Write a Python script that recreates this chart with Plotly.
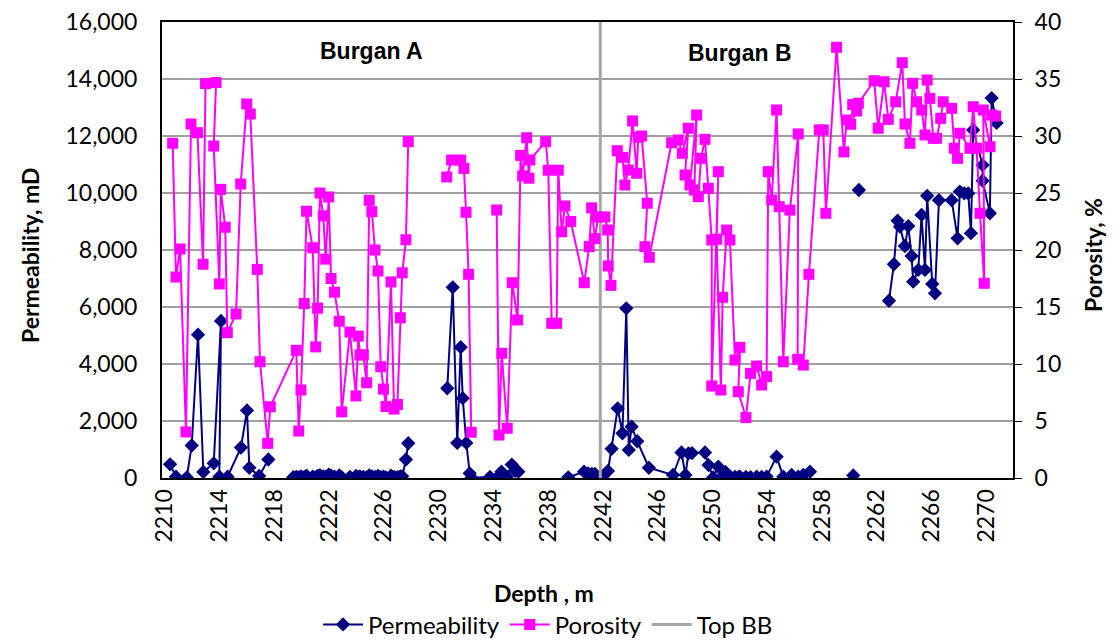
import plotly.graph_objects as go

# ---------------- data ----------------
perm_depth = [2210.37, 2210.80, 2211.59, 2211.95, 2212.41, 2212.80, 2213.56, 2214.09, 2213.97, 2214.57,
              2215.55, 2215.99, 2216.16, 2216.88, 2217.55, None,
              2219.37, 2219.59, 2219.77, 2219.93, 2220.17, 2220.34, 2220.79, 2221.01, 2221.15, 2221.32,
              2221.56, 2221.74, 2221.96, 2222.13, 2222.38, 2222.73, 2222.91, 2223.51, 2223.95, 2224.12,
              2224.24, 2224.49, 2224.73, 2224.92, 2225.11, 2225.34, 2225.56, 2225.76, 2225.96, 2226.14,
              2226.51, 2226.73, 2226.98, 2227.19, 2227.33, 2227.60, 2227.77, None,
              2230.62, 2231.02, 2231.35, 2231.60, 2231.75, 2232.01, 2232.26, 2232.40, 2233.74, 2234.36,
              2234.58, 2234.96, 2235.33, 2235.57, 2235.81, None,
              2239.46, 2240.61, 2240.92, 2241.19, 2241.41, 2241.78, 2242.00, 2242.36, 2242.63, 2243.07,
              2243.42, 2243.70, 2243.88, 2244.09, 2244.50, 2245.35, 2247.11, 2247.73, 2248.02, 2248.24,
              2248.50, 2249.45, 2249.71, 2250.05, 2250.42, 2250.65, 2250.94, 2251.29, 2251.64, 2251.88,
              2252.00, 2252.44, 2252.78, 2253.22, 2253.59, 2253.95, 2254.68, 2255.17, 2255.78, 2256.26,
              2256.63, 2257.12, None,
              2260.28, None,
              2260.69, None,
              2262.89, 2263.25, 2263.52, 2263.69, 2264.05, 2264.30, 2264.54, 2264.66, 2265.03, 2265.27,
              2265.52, 2265.68, 2266.05, 2266.25, 2266.54, 2267.47, 2267.90, 2268.07, 2268.39, 2268.68,
              2268.88, 2269.04, 2269.73, 2269.73, 2270.26, 2270.39, 2270.75]
perm_md = [480, 45, 20, 1140, 5030, 210, 515, 5510, 45, 45,
           1070, 2370, 360, 70, 650, None,
           30, 40, 25, 60, 35, 80, 50, 30, 70, 100,
           60, 40, 120, 80, 50, 90, 30, 40, 70, 30,
           55, 40, 25, 90, 60, 40, 75, 30, 50, 25,
           80, 40, 30, 55, 60, 650, 1220, None,
           3150, 6690, 1230, 4590, 2800, 1230, 165, 10, 35, 60,
           220, 45, 470, 250, 220, None,
           25, 220, 165, 140, 140, 45, 70, 245, 1025, 2445,
           1570, 5955, 985, 1800, 1290, 360, 105, 895, 105, 865,
           875, 895, 455, 20, 395, 20, 210, 50, 40, 30,
           50, 40, 30, 45, 35, 50, 750, 45, 105, 45,
           105, 220, None,
           90, None,
           10105, None,
           6220, 7500, 9030, 8820, 8140, 8840, 7790, 6890, 7300, 9230,
           7300, 9900, 6810, 6480, 9750, 9750, 8410, 10050, 9990, 9990,
           8590, 12210, 10980, 10430, 9290, 13330, 12460]

por_depth = [2210.56, 2210.80, 2211.10, 2211.53, 2211.90, 2212.37, 2212.78, 2212.96, 2213.73, 2213.56,
             2213.97, 2214.07, 2214.40, 2214.55, 2215.19, 2215.53, 2215.97, 2216.23, 2216.74, 2216.94,
             2217.50, 2217.69, 2219.59, 2219.77, 2219.93, 2220.17, 2220.34, 2220.79, 2221.01, 2221.15,
             2221.32, 2221.56, 2221.74, 2221.96, 2222.13, 2222.38, 2222.73, 2222.91, 2223.51, 2223.95,
             2224.12, 2224.24, 2224.49, 2224.73, 2224.92, 2225.11, 2225.34, 2225.56, 2225.76, 2225.96,
             2226.14, 2226.51, 2226.73, 2226.98, 2227.19, 2227.33, 2227.60, 2227.77, None,
             2230.58, 2230.94, 2231.60, 2231.84, 2231.99, 2232.18, 2232.37, None,
             2234.23, 2234.40, 2234.60, 2235.00, 2235.37, 2235.76, 2235.98, 2236.13, 2236.42, 2236.59,
             2236.66, 2237.81, 2238.00, 2238.25, 2238.61, 2238.73, 2238.98, 2239.22, 2239.64, 2240.63,
             2240.99, 2241.17, 2241.41, 2241.65, 2242.14, 2242.34, 2242.38, 2242.58, 2243.04, 2243.43,
             2243.60, 2243.84, 2244.16, 2244.46, 2244.57, 2244.82, 2245.23, 2245.06, 2245.38, 2247.01,
             2247.49, 2247.79, 2248.23, 2247.99, 2248.35, 2248.84, 2248.67, 2248.96, 2249.16, 2249.45,
             2249.69, 2249.94, 2249.94, 2250.42, 2250.30, 2250.61, 2250.74, 2251.03, 2251.27, 2251.64,
             2252.00, 2251.88, 2252.44, 2252.78, 2253.22, 2253.59, 2253.95, 2254.07, 2254.32, 2254.68,
             2254.87, 2255.17, 2255.65, 2256.26, 2256.22, 2256.63, 2257.04, 2257.80, 2258.09, 2258.28,
             2259.06, 2259.60, 2259.80, 2260.09, 2260.53, 2260.24, 2260.65, 2261.81, 2262.10, 2262.54,
             2262.84, 2263.38, 2263.86, 2264.06, 2264.42, 2264.62, 2264.91, 2265.28, 2265.52, 2265.68,
             2265.88, 2266.13, 2266.37, 2266.67, 2266.85, 2267.47, 2267.66, 2267.90, 2268.07, 2268.81,
             2269.04, 2269.29, 2269.54, 2269.85, 2269.78, 2270.27, 2270.39, 2270.68]
porosity = [29.36, 17.63, 20.09, 4.04, 31.05, 30.29, 18.75, 34.60, 34.69, 29.12,
            17.02, 25.32, 22.00, 12.75, 14.39, 25.79, 32.81, 31.93, 18.30, 10.20,
            3.04, 6.25, 11.20, 4.12, 7.72, 15.30, 23.40, 20.20, 11.50, 14.90,
            25.00, 23.00, 19.20, 24.65, 17.50, 16.30, 13.75, 5.80, 12.80, 7.20,
            12.45, 10.80, 10.80, 8.36, 24.36, 23.36, 20.00, 18.16, 9.76, 7.80,
            6.27, 17.20, 6.05, 6.45, 14.06, 18.00, 20.90, 29.50, None,
            26.41, 27.89, 27.89, 27.16, 23.31, 17.87, 4.01, None,
            23.51, 3.77, 10.94, 4.36, 17.13, 13.86, 28.30, 26.50, 29.85, 26.30,
            27.90, 29.50, 27.00, 13.57, 13.57, 27.00, 21.60, 23.86, 22.50, 17.13,
            20.30, 23.70, 21.00, 22.90, 22.90, 21.75, 18.60, 16.90, 28.71, 28.13,
            25.70, 27.02, 31.32, 26.73, 29.89, 30.00, 24.10, 20.29, 19.36, 29.41,
            29.65, 28.48, 30.68, 26.58, 25.70, 31.84, 25.26, 24.68, 28.04, 29.71,
            25.41, 20.88, 8.07, 26.87, 20.94, 7.72, 15.85, 21.75, 20.88, 10.35,
            11.46, 7.57, 5.30, 9.18, 9.82, 8.16, 8.89, 26.87, 24.39, 32.28,
            23.80, 10.20, 23.50, 30.18, 10.41, 9.91, 17.87, 30.53, 30.53, 23.22,
            37.78, 28.60, 31.40, 31.03, 32.19, 32.76, 32.87, 34.85, 30.68, 34.76,
            31.46, 33.00, 36.43, 31.05, 29.36, 34.62, 33.00, 32.28, 30.09, 34.91,
            33.30, 29.80, 29.80, 31.55, 33.00, 32.43, 28.92, 28.04, 30.24, 28.92,
            32.57, 28.92, 23.22, 17.08, 32.28, 29.06, 31.84, 31.75]

top_bb_depth = [2241.8, 2241.8]
top_bb_perm = [0, 16000]

zone_labels = ["Burgan A", "Burgan B"]
zone_label_depth = [2225.1, 2252.0]
zone_label_perm = [15000, 14900]

x_ticks = list(range(2210, 2271, 4))
perm_ticks = list(range(0, 16001, 2000))
por_ticks = list(range(0, 41, 5))

# ---------------- figure ----------------
FONT = "Lato, 'Open Sans', sans-serif"
fig = go.Figure()

fig.add_trace(go.Scatter(
    x=perm_depth, y=perm_md, name="Permeability", mode="lines+markers",
    line=dict(color="#000080", width=2),
    marker=dict(symbol="diamond", size=11, color="#000080"),
    yaxis="y"))

fig.add_trace(go.Scatter(
    x=por_depth, y=porosity, name="Porosity", mode="lines+markers",
    line=dict(color="#FF00FF", width=2),
    marker=dict(symbol="square", size=11, color="#FF00FF"),
    yaxis="y2"))

fig.add_trace(go.Scatter(
    x=top_bb_depth, y=top_bb_perm, name="Top BB", mode="lines",
    line=dict(color="#A6A6A6", width=3), yaxis="y"))

for lab, xd, yd in zip(zone_labels, zone_label_depth, zone_label_perm):
    fig.add_annotation(x=xd, y=yd, xref="x", yref="y", text="<b>%s</b>" % lab,
                       showarrow=False,
                       font=dict(family="'Liberation Sans', Arial, sans-serif", size=23, color="#000000"))

# axis titles placed as text annotations
fig.add_annotation(x=-0.1551, y=0.489, xref="paper", yref="paper", text="<b>Permeability, mD</b>",
                   textangle=-90, showarrow=False, xanchor="center", yanchor="middle",
                   font=dict(family=FONT, size=23, color="#000000"))
fig.add_annotation(x=1.094, y=0.489, xref="paper", yref="paper", text="<b>Porosity, %</b>",
                   textangle=-90, showarrow=False, xanchor="center", yanchor="middle",
                   font=dict(family=FONT, size=23, color="#000000"))
fig.add_annotation(x=0.449, y=-0.252, xref="paper", yref="paper", text="<b>Depth , m</b>",
                   showarrow=False, xanchor="center", yanchor="middle",
                   font=dict(family=FONT, size=23, color="#000000"))

# the page body adds an 8 px margin, so the figure is 8 px smaller and offset
fig.update_layout(
    width=1111, height=632,
    margin=dict(l=154, r=106, t=14, b=162, autoexpand=False),
    paper_bgcolor="white", plot_bgcolor="white",
    font=dict(family=FONT, size=23, color="#000000"),
    showlegend=True,
    legend=dict(orientation="h", x=0.4536, xanchor="center", y=-0.322, yanchor="middle",
                font=dict(family=FONT, size=24), bgcolor="rgba(0,0,0,0)",
                itemwidth=40, tracegroupgap=0),
    xaxis=dict(
        range=[2209.78, 2271.95], tickmode="array", tickvals=x_ticks,
        ticktext=[str(v) for v in x_ticks], tickangle=-90,
        showgrid=False, zeroline=False, automargin=False,
        showline=True, linecolor="#000000", linewidth=2, mirror=True,
        ticks="", tickfont=dict(family=FONT, size=23), ticklabeloverflow="allow",
    ),
    yaxis=dict(
        range=[0, 16000], tickmode="array", tickvals=perm_ticks,
        ticktext=[f"{v:,}" for v in perm_ticks],
        showgrid=True, gridcolor="#A0A0A0", gridwidth=1.5, zeroline=False, automargin=False,
        showline=True, linecolor="#000000", linewidth=2, mirror=True,
        ticks="", ticklabelstandoff=18, tickfont=dict(family=FONT, size=23),
        ticklabeloverflow="allow",
    ),
    yaxis2=dict(
        range=[0, 40], tickmode="array", tickvals=por_ticks,
        ticktext=[str(v) for v in por_ticks],
        overlaying="y", side="right", showgrid=False, zeroline=False, automargin=False,
        showline=False, ticks="outside", ticklen=8, tickcolor="#000000", tickwidth=1,
        ticklabelstandoff=8, tickfont=dict(family=FONT, size=23),
        ticklabeloverflow="allow",
    ),
)

fig.write_html("out.html")
